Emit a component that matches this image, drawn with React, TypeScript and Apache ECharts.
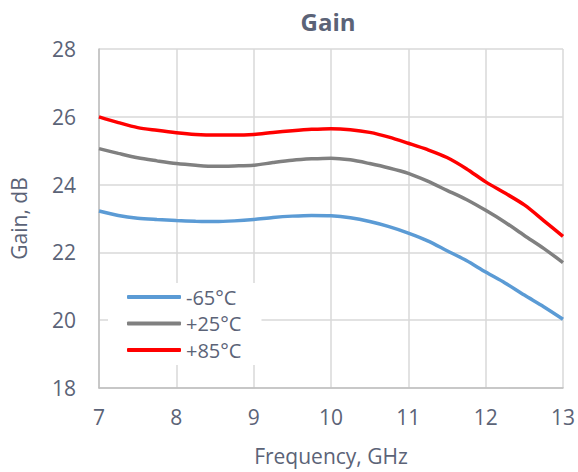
import React, { useEffect, useRef } from "react";
import * as echarts from "echarts";

const freqs = [7, 7.25, 7.5, 7.75, 8, 8.25, 8.5, 8.75, 9, 9.25, 9.5, 9.75, 10, 10.25, 10.5, 10.75, 11, 11.25, 11.5, 11.75, 12, 12.25, 12.5, 12.75, 13];
const gainMinus65 = [23.22, 23.09, 23.01, 22.97, 22.94, 22.92, 22.91, 22.93, 22.97, 23.03, 23.07, 23.09, 23.08, 23.02, 22.91, 22.76, 22.57, 22.34, 22.05, 21.76, 21.42, 21.1, 20.74, 20.4, 20.03];
const gain25 = [25.06, 24.92, 24.79, 24.7, 24.62, 24.57, 24.54, 24.55, 24.57, 24.65, 24.72, 24.76, 24.78, 24.73, 24.62, 24.49, 24.33, 24.1, 23.83, 23.56, 23.24, 22.89, 22.5, 22.12, 21.7];
const gain85 = [26.0, 25.83, 25.68, 25.6, 25.53, 25.48, 25.46, 25.46, 25.48, 25.54, 25.59, 25.63, 25.65, 25.62, 25.54, 25.4, 25.22, 25.03, 24.8, 24.47, 24.08, 23.75, 23.4, 22.94, 22.47];

const seriesNames = ["-65°C", "+25°C", "+85°C"];
const seriesColors = ["#5b9bd5", "#808080", "#ff0000"];
const textColor = "#5b6377";
const font = "Open Sans";

export default function App() {
  const ref = useRef<HTMLDivElement>(null);
  useEffect(() => {
    if (!ref.current) return;
    const chart = echarts.init(ref.current, undefined, { renderer: "svg" });
    const all = [gainMinus65, gain25, gain85];
    chart.setOption({
      animation: false,
      textStyle: { fontFamily: font },
      title: {
        text: "Gain",
        left: 328,
        top: 9,
        padding: 0,
        textAlign: "center",
        textStyle: { color: textColor, fontSize: 24, fontWeight: "bold", fontFamily: font },
      },
      grid: { left: 99, right: 13, top: 49, bottom: 84 },
      legend: {
        orient: "vertical",
        left: 108,
        top: 283,
        icon: "roundRect",
        itemWidth: 54,
        itemHeight: 4,
        itemGap: 6.5,
        backgroundColor: "#ffffff",
        padding: [4, 20, 5, 19],
        textStyle: { color: textColor, fontSize: 20, lineHeight: 20, fontFamily: font },
        data: seriesNames,
      },
      xAxis: {
        type: "value",
        min: 7,
        max: 13,
        interval: 1,
        name: "Frequency, GHz",
        nameLocation: "middle",
        nameGap: 57,
        nameTextStyle: { color: textColor, fontSize: 21, fontFamily: font },
        axisLine: { show: true, lineStyle: { color: "#bfbfbf", width: 1.5 } },
        axisTick: { show: false },
        axisLabel: { color: textColor, fontSize: 21, margin: 18, fontFamily: font },
        splitLine: { show: true, lineStyle: { color: "#d9d9d9", width: 1.5 } },
      },
      yAxis: {
        type: "value",
        min: 18,
        max: 28,
        interval: 2,
        name: "Gain, dB",
        nameLocation: "middle",
        nameGap: 70,
        nameTextStyle: { color: textColor, fontSize: 21, fontFamily: font },
        axisLine: { show: true, lineStyle: { color: "#bfbfbf", width: 1.5 } },
        axisTick: { show: false },
        axisLabel: { color: textColor, fontSize: 21, margin: 23, fontFamily: font },
        splitLine: { show: true, lineStyle: { color: "#d9d9d9", width: 1.5 } },
      },
      series: seriesNames.map((name, i) => ({
        name,
        type: "line",
        symbol: "none",
        smooth: 0.3,
        color: seriesColors[i],
        lineStyle: { color: seriesColors[i], width: 3.5 },
        data: freqs.map((f, j) => [f, all[i][j]]),
      })),
    });
    return () => chart.dispose();
  }, []);
  return <div ref={ref} style={{ width: 578, height: 472, position: "absolute", left: 0, top: 0, background: "#fff" }} />;
}
